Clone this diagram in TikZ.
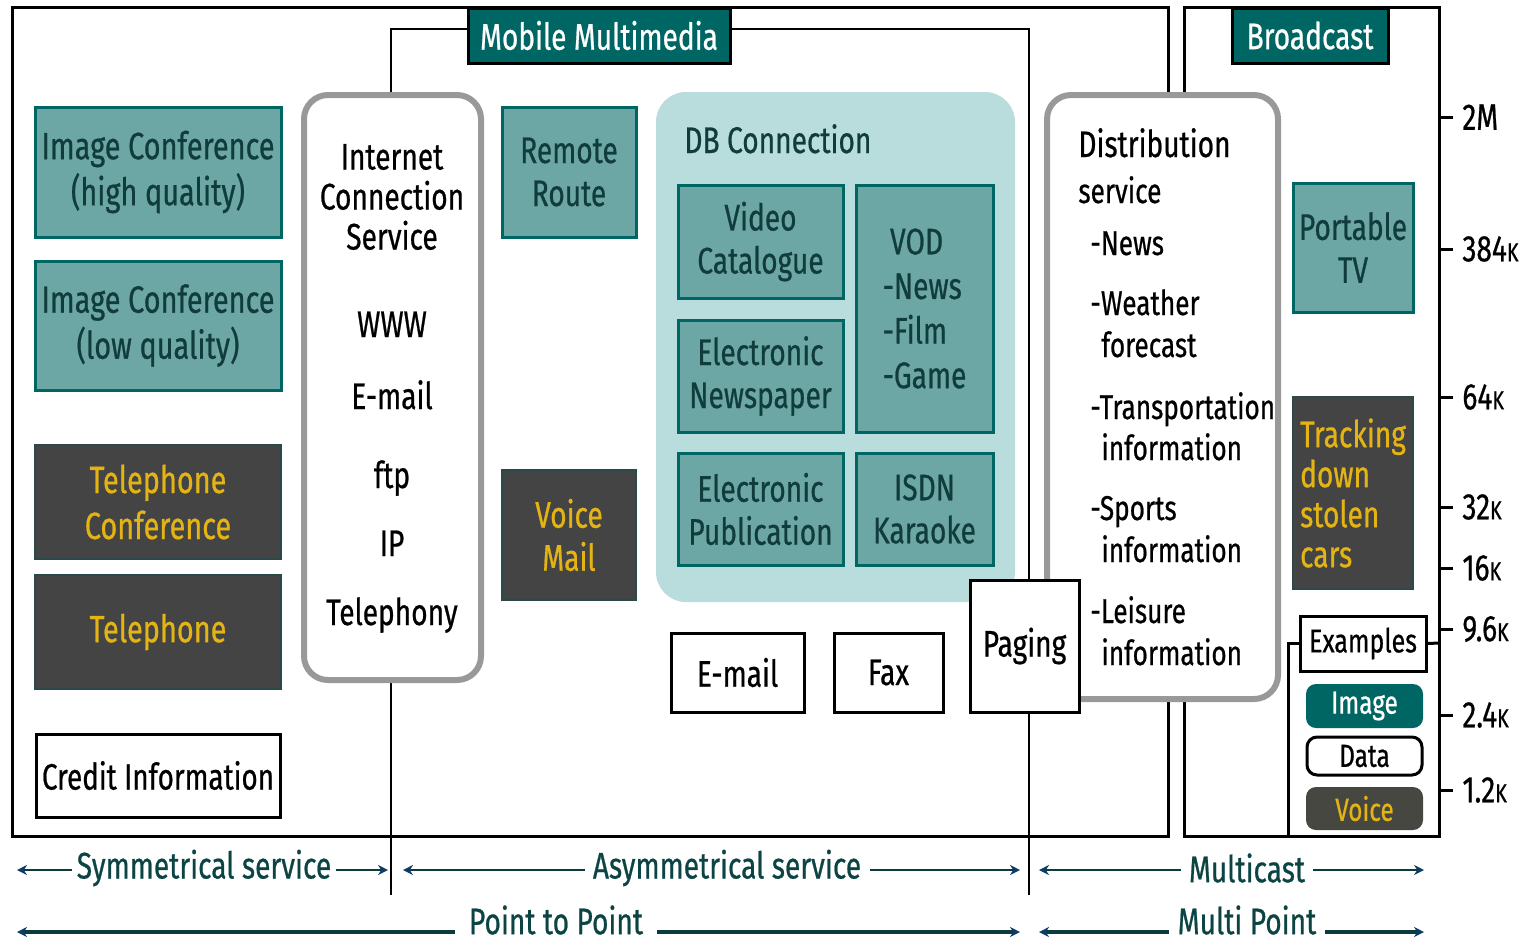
\documentclass[tikz,border=0pt]{standalone}
\usepackage{fontspec}
\setmainfont[FakeStretch=0.76, FakeBold=0.6]{Fira Sans}
\usetikzlibrary{arrows.meta}

\definecolor{tealdark}{HTML}{006663}
\definecolor{tealmid}{HTML}{6DA7A5}
\definecolor{tealink}{HTML}{103C3C}
\definecolor{dblight}{HTML}{B9DCDC}
\definecolor{boxgray}{HTML}{444444}
\definecolor{darkedge}{HTML}{2A4A4A}
\definecolor{gold}{HTML}{E3B414}
\definecolor{framegray}{HTML}{999999}
\definecolor{arrowink}{HTML}{0B3B3B}
\definecolor{rangeink}{HTML}{0C4444}
\definecolor{tipblue}{HTML}{0D3A66}

\newcommand\kk{{\fontsize{13pt}{13pt}\selectfont K}}

\tikzset{
  cell/.style n args={4}{minimum width={((#3)-(#1))*0.5pt}, minimum height={((#4)-(#2))*0.5pt},
    at={({((#1)+(#3))/2},{((#2)+(#4))/2})}},
  tealbox/.style={draw=tealdark, fill=tealmid, line width=1.5pt, text=tealink, align=center, inner sep=0pt},
  darkbox/.style={draw=darkedge, fill=boxgray, line width=1pt, text=gold, align=center, inner sep=0pt},
  plainbox/.style={draw=black, fill=white, line width=1.5pt, align=center, inner sep=0pt},
  svcframe/.style={draw=framegray, fill=white, line width=3pt, rounded corners=12pt, inner sep=0pt},
  tagbox/.style={draw=black, fill=tealdark, line width=1.5pt, text=white, inner sep=0pt},
  pill/.style={rounded corners=5pt, line width=1.5pt, inner sep=0pt, font=\fontsize{16pt}{18pt}\selectfont},
  frameline/.style={draw=black, line width=1.5pt},
  splitline/.style={draw=black, line width=1.2pt},
  spanarrow/.style={draw=arrowink, line width=1.3pt, -{Stealth[length=5pt,width=5pt,color=tipblue]}},
  spanlabel/.style={text=rangeink, inner sep=4pt},
}

\begin{document}
\begin{tikzpicture}[x=0.5pt, y=-0.5pt, font=\fontsize{18.5pt}{21.5pt}\selectfont]
	\useasboundingbox (0,0) rectangle (1530,944);
	%\draw [help lines] (0,0) grid (1530,944);

	% outer frames
	\draw[frameline] (12,7) rectangle (1168,836);
	\draw[frameline] (1184,7) rectangle (1439,836);
	\draw[splitline] (391,895) -- (391,29) -- (1029,29) -- (1029,895);

	\node[tagbox, cell={468}{8}{730}{63}] (mm) {Mobile Multimedia};
	\node[tagbox, cell={1232}{8}{1388}{63}] (bc) {Broadcast};

	% symmetrical column
	\node[tealbox, cell={35}{107}{281}{237}, font=\fontsize{19pt}{23pt}\selectfont] (imghi) {Image Conference\\(high quality)};
	\node[tealbox, cell={35}{261}{281}{390}, font=\fontsize{19pt}{23pt}\selectfont] (imglo) {Image Conference\\(low quality)};
	\node[darkbox, cell={35}{445}{281}{559}, font=\fontsize{19pt}{23pt}\selectfont] (telconf) {Telephone\\Conference};
	\node[darkbox, cell={35}{575}{281}{689}, font=\fontsize{19pt}{23pt}\selectfont] (tel) {Telephone};
	\node[plainbox, cell={36}{734}{280}{817}, font=\fontsize{18.3pt}{22pt}\selectfont] (credit) {Credit Information};

	% internet connection service
	\node[svcframe, cell={304}{95}{481}{680}] (ics) {};
	\node[align=center, font=\fontsize{18.5pt}{20pt}\selectfont] (icstitle) at (392,197) {Internet\\Connection\\Service};
	\foreach \y/\t [count=\i] in {337/WWW, 409/E-mail, 488/ftp, 556/IP, 625/Telephony}
		\node[anchor=base, inner sep=0pt] (ics\i) at (392,\y) {\t};

	\node[tealbox, cell={502}{107}{636}{237}] (remote) {Remote\\Route};
	\node[darkbox, cell={502}{470}{636}{600}] (vmail) {Voice\\Mail};

	% DB connection
	\node[fill=dblight, rounded corners=15pt, inner sep=0pt, cell={656}{92}{1015}{602}] (db) {};
	\node[text=tealink, anchor=base west, inner sep=0pt] (dbtitle) at (684,153) {DB Connection};
	\node[tealbox, cell={678}{185}{843}{298}] (video) {Video\\Catalogue};
	\node[tealbox, align=left, cell={856}{185}{993}{432}, font=\fontsize{18.5pt}{22.3pt}\selectfont] (vod) {\ VOD\\-News\\-Film\\-Game};
	\node[tealbox, cell={678}{320}{843}{432}] (enews) {Electronic\\Newspaper};
	\node[tealbox, cell={678}{453}{843}{565}] (epub) {Electronic\\Publication};
	\node[tealbox, cell={856}{453}{993}{565}] (isdn) {ISDN\\Karaoke};

	\node[plainbox, cell={671}{633}{804}{712}] (email) {E-mail};
	\node[plainbox, cell={834}{633}{943}{712}] (fax) {Fax};

	% distribution service
	\node[svcframe, cell={1047}{95}{1278}{699}] (ds) {};
	\node[anchor=base west, inner sep=0pt] (dshead) at (1078,157) {Distribution};
	\foreach \x/\y/\t [count=\i] in {1078/203/service, 1090/255/-News,
			1090/315/-Weather, 1101/357/forecast, 1090/419/-Transportation, 1101/460/information,
			1090/520/-Sports, 1101/562/information, 1090/623/-Leisure, 1101/665/information}
		\node[anchor=base west, inner sep=0pt, font=\fontsize{17.2pt}{20pt}\selectfont] (ds\i) at (\x,\y) {\t};
	\node[plainbox, cell={970}{580}{1079}{712}] (paging) {Paging};

	% broadcast column
	\node[tealbox, cell={1293}{183}{1413}{312}] (ptv) {Portable\\TV};
	\node[darkbox, align=left, cell={1293}{397}{1413}{589}, font=\fontsize{18.5pt}{20pt}\selectfont] (stolen) {Tracking\\down\\stolen\\cars};

	\node[plainbox, cell={1300}{616}{1426}{671}, font=\fontsize{16.5pt}{18pt}\selectfont] (ex) {Examples};
	\node[pill, fill=tealdark, text=white, cell={1306}{684}{1423}{728}] (eximg) {Image};
	\node[pill, draw=black, fill=white, cell={1307}{737}{1422}{775}] (exdata) {Data};
	\node[pill, fill=boxgray!95!olive, text=gold, cell={1306}{787}{1423}{830}] (exvoice) {Voice};
	\coordinate (exfoot) at (1288,836);
	\coordinate (exside) at (1439,643);
	\draw[frameline] (ex.west) -| (exfoot);
	\draw[frameline] (ex.east) -- (exside);

	% rate scale
	\foreach \y/\lab in {117/2M, 249/384\kk, 397/64\kk, 507/32\kk, 568/16\kk, 629/9.6\kk, 715/2.4\kk, 790/1.2\kk} {
		\draw[frameline] (1439,\y) -- (1453,\y);
		\node[anchor=west, inner sep=0pt, font=\fontsize{18.5pt}{19pt}\selectfont] (rate\y) at (1462,\y) {\lab};
	}

	% service ranges
	\node[spanlabel, inner xsep=2pt] (sym) at (204,868) {Symmetrical service};
	\coordinate (symL) at (17,870);
	\coordinate (symR) at (388,870);
	\draw[spanarrow] (sym.west |- symL) -- (symL);
	\draw[spanarrow] (sym.east |- symR) -- (symR);

	\node[spanlabel] (asym) at (727,868) {Asymmetrical service};
	\coordinate (asymL) at (403,870);
	\coordinate (asymR) at (1020,870);
	\draw[spanarrow] (asym.west |- asymL) -- (asymL);
	\draw[spanarrow] (asym.east |- asymR) -- (asymR);

	\node[spanlabel] (mcast) at (1247,868) {Multicast};
	\coordinate (mcastL) at (1039,870);
	\coordinate (mcastR) at (1424,870);
	\draw[spanarrow] (mcast.west |- mcastL) -- (mcastL);
	\draw[spanarrow] (mcast.east |- mcastR) -- (mcastR);

	\node[spanlabel, inner xsep=7pt, inner ysep=1pt] (p2p) at (556,920) {Point to Point};
	\coordinate (p2pL) at (17,932);
	\coordinate (p2pR) at (1020,932);
	\draw[spanarrow, line width=1.8pt] (p2p.west |- p2pL) -- (p2pL);
	\draw[spanarrow, line width=1.8pt] (p2p.east |- p2pR) -- (p2pR);

	\node[spanlabel, inner ysep=1pt] (mpt) at (1247,920) {Multi Point};
	\coordinate (mptL) at (1039,932);
	\coordinate (mptR) at (1424,932);
	\draw[spanarrow, line width=1.8pt] (mpt.west |- mptL) -- (mptL);
	\draw[spanarrow, line width=1.8pt] (mpt.east |- mptR) -- (mptR);
\end{tikzpicture}
\end{document}
